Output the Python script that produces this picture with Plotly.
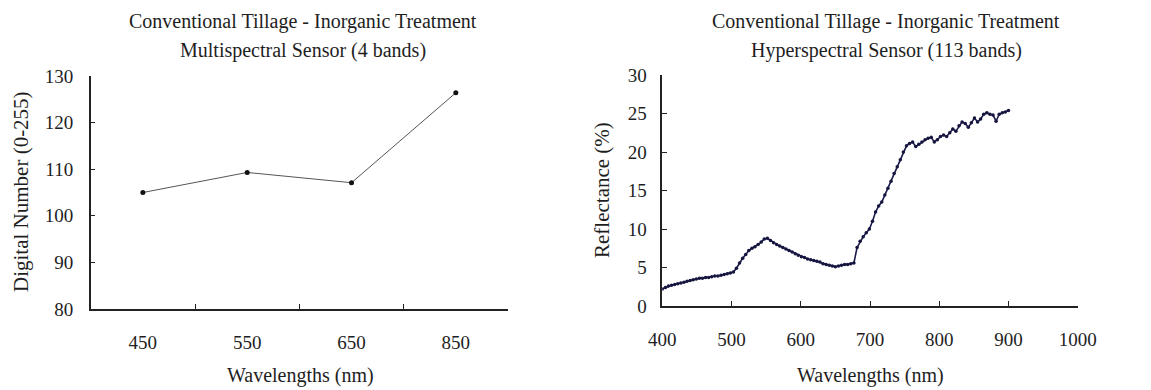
import plotly.graph_objects as go

# ---- Data ----
ms_bands = ["450", "550", "650", "850"]
ms_values = [105.0, 109.3, 107.1, 126.4]

hs_wavelengths = [
    400.0, 404.5, 408.9, 413.4, 417.9, 422.3, 426.8, 431.3, 435.7, 440.2,
    444.6, 449.1, 453.6, 458.0, 462.5, 467.0, 471.4, 475.9, 480.4, 484.8,
    489.3, 493.8, 498.2, 502.7, 507.1, 511.6, 516.1, 520.5, 525.0, 529.5,
    533.9, 538.4, 542.9, 547.3, 551.8, 556.3, 560.7, 565.2, 569.6, 574.1,
    578.6, 583.0, 587.5, 592.0, 596.4, 600.9, 605.4, 609.8, 614.3, 618.8,
    623.2, 627.7, 632.1, 636.6, 641.1, 645.5, 650.0, 654.5, 658.9, 663.4,
    667.9, 672.3, 676.8, 681.3, 685.7, 690.2, 694.6, 699.1, 703.6, 708.0,
    712.5, 717.0, 721.4, 725.9, 730.4, 734.8, 739.3, 743.8, 748.2, 752.7,
    757.1, 761.6, 766.1, 770.5, 775.0, 779.5, 783.9, 788.4, 792.9, 797.3,
    801.8, 806.3, 810.7, 815.2, 819.6, 824.1, 828.6, 833.0, 837.5, 842.0,
    846.4, 850.9, 855.4, 859.8, 864.3, 868.8, 873.2, 877.7, 882.1, 886.6,
    891.1, 895.5, 900.0,
]
hs_reflectance = [
    2.2, 2.4, 2.6, 2.7, 2.8, 2.9, 3.0, 3.1, 3.2, 3.3,
    3.4, 3.5, 3.6, 3.6, 3.7, 3.7, 3.8, 3.9, 3.9, 4.0,
    4.1, 4.2, 4.3, 4.4, 4.9, 5.6, 6.2, 6.7, 7.2, 7.5,
    7.7, 8.0, 8.3, 8.7, 8.8, 8.5, 8.2, 8.0, 7.8, 7.6,
    7.4, 7.2, 7.0, 6.8, 6.6, 6.4, 6.3, 6.1, 6.0, 5.9,
    5.8, 5.7, 5.5, 5.4, 5.3, 5.2, 5.1, 5.2, 5.3, 5.4,
    5.4, 5.5, 5.6, 7.6, 8.4, 9.0, 9.5, 10.0, 11.0, 12.2,
    13.0, 13.5, 14.4, 15.3, 16.2, 17.2, 18.1, 19.0, 20.0, 20.8,
    21.1, 21.3, 20.7, 21.0, 21.3, 21.6, 21.8, 21.9, 21.3, 21.6,
    22.0, 22.2, 22.0, 22.5, 23.0, 22.7, 23.4, 23.9, 23.7, 23.2,
    23.8, 24.4, 23.9, 24.3, 24.9, 25.1, 24.9, 24.8, 24.0, 24.9,
    25.1, 25.2, 25.4,
]

title_line1 = "Conventional Tillage - Inorganic Treatment"
left_line2 = "Multispectral Sensor (4 bands)"
right_line2 = "Hyperspectral Sensor (113 bands)"
x_title = "Wavelengths (nm)"
left_y_title = "Digital Number (0-255)"
right_y_title = "Reflectance (%)"

OFF = 8  # default page body margin
W, H = 1151 - OFF, 390 - OFF
FONT = "Liberation Serif, Times New Roman, serif"
TXT = "#1e1e1e"
AX = "#222222"


def px_x(p):
    return (p - OFF) / W


def px_y(p):
    return 1 - (p - OFF) / H


fig = go.Figure()

fig.add_trace(go.Scatter(
    x=ms_bands, y=ms_values, mode="lines+markers",
    line=dict(color="#555555", width=1),
    marker=dict(color="#111111", size=5),
    xaxis="x", yaxis="y", showlegend=False,
))

fig.add_trace(go.Scatter(
    x=hs_wavelengths, y=hs_reflectance, mode="lines+markers",
    line=dict(color="#1c1c4c", width=1.6),
    marker=dict(color="#15153f", size=3.5),
    xaxis="x2", yaxis="y2", showlegend=False,
))

axis_common = dict(
    showgrid=False, zeroline=False, showline=True, linecolor=AX, linewidth=1.5,
    ticks="inside", tickcolor=AX, tickwidth=1.3, ticklen=5,
    tickfont=dict(family=FONT, size=19, color=TXT),
    mirror=False, automargin=False,
)

fig.update_layout(
    template="none",
    width=W, height=H,
    margin=dict(l=0, r=0, t=0, b=0, autoexpand=False),
    paper_bgcolor="white", plot_bgcolor="white",
    font=dict(family=FONT, color=TXT),
    xaxis=dict(
        axis_common, domain=[px_x(90.7), px_x(508)], anchor="y",
        type="category", range=[-0.5, 3.5], tickson="boundaries",
        ticklabelstandoff=15,
    ),
    yaxis=dict(
        axis_common, domain=[px_y(309), px_y(76)], anchor="x",
        range=[80, 130], dtick=10, ticklabelstandoff=12,
    ),
    xaxis2=dict(
        axis_common, domain=[px_x(662.3), px_x(1077.7)], anchor="y2",
        range=[400, 1000], dtick=100, ticklabelstandoff=15,
    ),
    yaxis2=dict(
        axis_common, domain=[px_y(306), px_y(75)], anchor="x2",
        range=[0, 30], dtick=5, ticklabelstandoff=10,
    ),
)

anns = [
    (303, 21, title_line1, 0, 20), (303, 50, left_line2, 0, 20),
    (886, 21, title_line1, 0, 20), (886, 50, right_line2, 0, 20),
    (300, 375, x_title, 0, 20), (870, 375, x_title, 0, 20),
    (21, 192, left_y_title, -90, 21), (602, 190, right_y_title, -90, 21),
]
for x, y, t, ang, sz in anns:
    fig.add_annotation(
        x=px_x(x), y=px_y(y), xref="paper", yref="paper", text=t,
        showarrow=False, xanchor="center", yanchor="middle", textangle=ang,
        font=dict(family=FONT, size=sz, color=TXT),
    )

fig.write_html("out.html")
